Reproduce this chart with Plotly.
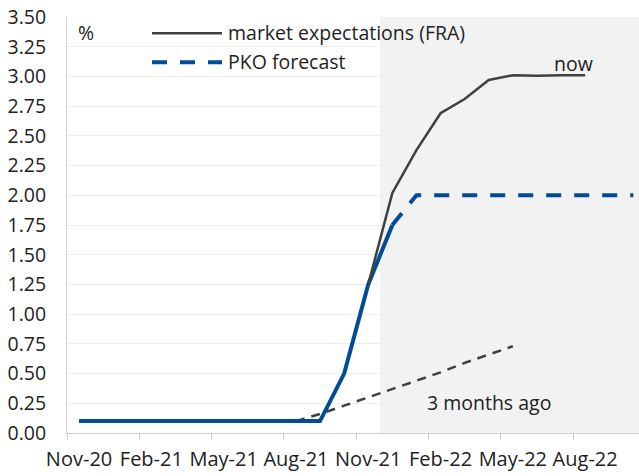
import plotly.graph_objects as go

# ---- data ----
months = ["Nov-20", "Dec-20", "Jan-21", "Feb-21", "Mar-21", "Apr-21", "May-21", "Jun-21",
          "Jul-21", "Aug-21", "Sep-21", "Oct-21", "Nov-21", "Dec-21", "Jan-22", "Feb-22",
          "Mar-22", "Apr-22", "May-22", "Jun-22", "Jul-22", "Aug-22", "Sep-22", "Oct-22"]

# NBP reference rate (solid blue), Nov-20 .. Dec-21
rate_actual = [0.10, 0.10, 0.10, 0.10, 0.10, 0.10, 0.10, 0.10, 0.10, 0.10, 0.10, 0.50, 1.25, 1.75]
# PKO forecast (dashed blue), Dec-21 .. Oct-22
pko_forecast = [1.75, 2.00, 2.00, 2.00, 2.00, 2.00, 2.00, 2.00, 2.00, 2.00, 2.00]
# market expectations (FRA) now, Nov-21 .. Aug-22
fra_now = [1.25, 2.02, 2.38, 2.69, 2.81, 2.97, 3.01, 3.005, 3.01, 3.01]
# market expectations 3 months ago, Aug-21 .. May-22
fra_3m_ago = [0.10, 0.16, 0.23, 0.30, 0.37, 0.44, 0.51, 0.59, 0.66, 0.73]

tick_labels = ["Nov-20", "Feb-21", "May-21", "Aug-21", "Nov-21", "Feb-22", "May-22", "Aug-22"]

idx = {m: i for i, m in enumerate(months)}
x_actual = list(range(0, len(rate_actual)))
x_pko = list(range(idx["Dec-21"], idx["Dec-21"] + len(pko_forecast)))
x_now = list(range(idx["Nov-21"], idx["Nov-21"] + len(fra_now)))
x_ago = list(range(idx["Aug-21"], idx["Aug-21"] + len(fra_3m_ago)))
tick_vals = [idx[t] for t in tick_labels]

BLUE = "#004c97"
DARK = "#404040"
FONT = "Open Sans"
FS = 19.5

fig = go.Figure()
fig.add_trace(go.Scatter(x=x_ago, y=fra_3m_ago, mode="lines",
                         line=dict(color=DARK, width=2.5, dash="9px,7px"), showlegend=False))
fig.add_trace(go.Scatter(x=x_actual, y=rate_actual, mode="lines",
                         line=dict(color=BLUE, width=4), showlegend=False))
fig.add_trace(go.Scatter(x=x_pko, y=pko_forecast, mode="lines",
                         line=dict(color=BLUE, width=4, dash="15px,13px"), showlegend=False))
fig.add_trace(go.Scatter(x=x_now, y=fra_now, mode="lines",
                         line=dict(color=DARK, width=2.5), showlegend=False))

L, R_PX, T, B = 67, 639, 17, 433
W_PX = R_PX - L
H_PX = B - T
x_max = -0.5 + W_PX / 24.1

def px(xp):
    return (xp - L) / W_PX

def py(yp):
    return (B - yp) / H_PX

shapes = [
    dict(type="rect", xref="x", yref="y", x0=12.5, x1=x_max, y0=0, y1=3.5,
         fillcolor="#f2f2f2", line=dict(width=0), layer="between"),
    dict(type="line", xref="paper", yref="paper", x0=px(152), x1=px(222), y0=py(33.3), y1=py(33.3),
         line=dict(color=DARK, width=2.5)),
    dict(type="line", xref="paper", yref="paper", x0=px(152), x1=px(222), y0=py(62.3), y1=py(62.3),
         line=dict(color=BLUE, width=4, dash="15px,13px")),
]

annotations = [
    dict(text="market expectations (FRA)", xref="paper", yref="paper", x=px(226), y=py(33),
         xanchor="left", yanchor="middle", showarrow=False),
    dict(text="PKO forecast", xref="paper", yref="paper", x=px(226), y=py(62),
         xanchor="left", yanchor="middle", showarrow=False),
    dict(text="%", xref="paper", yref="paper", x=px(86), y=py(33),
         xanchor="center", yanchor="middle", showarrow=False),
    dict(text="now", xref="paper", yref="paper", x=px(573), y=py(63),
         xanchor="center", yanchor="middle", showarrow=False),
    dict(text="3 months ago", xref="paper", yref="paper", x=px(489), y=py(402),
         xanchor="center", yanchor="middle", showarrow=False),
]

fig.update_layout(
    width=639, height=476,
    margin=dict(l=L, r=639 - R_PX, t=T, b=476 - B, pad=0),
    plot_bgcolor="white", paper_bgcolor="white",
    font=dict(family=FONT, size=FS, color="#222222"),
    shapes=shapes, annotations=annotations,
    showlegend=False,
    xaxis=dict(range=[-0.5, x_max], tickvals=tick_vals, ticktext=tick_labels,
               ticks="", showgrid=False, zeroline=False,
               showline=True, linecolor="#d0d0d0", linewidth=1,
               minor=dict(tick0=-0.5, dtick=3, ticks="outside", ticklen=6,
                          tickcolor="#d0d0d0", showgrid=False),
               ticklabelstandoff=8,
               tickfont=dict(size=20)),
    yaxis=dict(range=[0, 3.5], dtick=0.25, tickformat=".2f", ticks="",
               showgrid=True, gridcolor="#ededed", gridwidth=1, zeroline=False,
               showline=True, linecolor="#d9d9d9", linewidth=1,
               ticklabelstandoff=16, tickfont=dict(size=FS)),
)

fig.write_html("out.html")
